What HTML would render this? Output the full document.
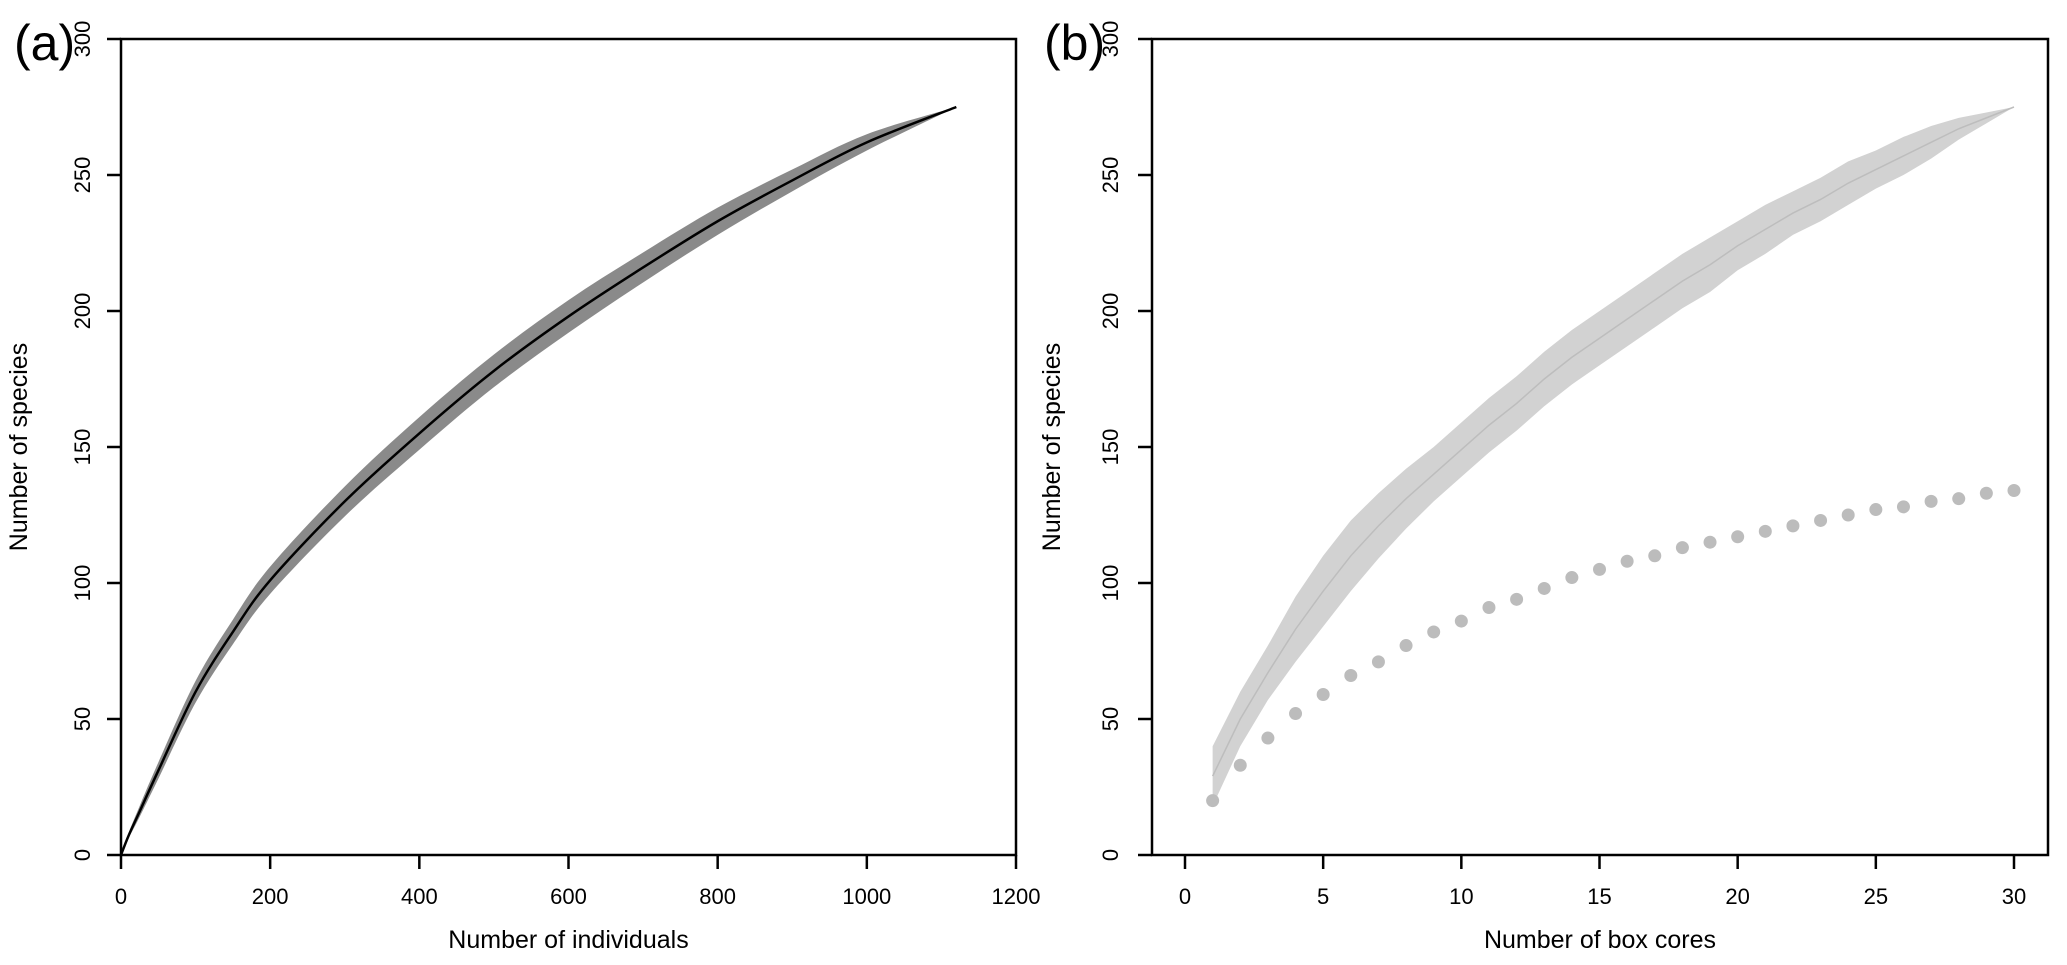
<!DOCTYPE html>
<html><head><meta charset="utf-8"><style>
html,body{margin:0;padding:0;background:#fff}
svg{display:block;font-family:"Liberation Sans",Arial,sans-serif}
</style></head><body>
<svg id="c" width="2067" height="965" viewBox="0 0 2067 965"></svg>
<script>
// Panel (a) data
const aX = [0,10,25,50,100,150,200,300,400,500,600,700,800,900,1000,1120];
const aMean = [0,7,16,31,60,82,101,130,155,178,198,216,233,248,262,275];
const aHalf = [0,1,2,3,4,4.5,5,5.5,6,6,6,5.5,5,4,3,0];
// Panel (b) data
const bX = [1,2,3,4,5,6,7,8,9,10,11,12,13,14,15,16,17,18,19,20,21,22,23,24,25,26,27,28,29,30];
const bMean = [29,50,67,83,97,110,121,131,140,149,158,166,175,183,190,197,204,211,217,224,230,236,241,247,252,257,262,267,271,275];
const bHalf = [11,10,10,12,13,13,12,11,10,10,10,10,10,10,10,10,10,10,10,9,9,8,8,8,7,7,6,4,2,0];
const bDots = [20,33,43,52,59,66,71,77,82,86,91,94,98,102,105,108,110,113,115,117,119,121,123,125,127,128,130,131,133,134];
const aXTicks = [0,200,400,600,800,1000,1200];
const bXTicks = [0,5,10,15,20,25,30];
const yTicks = [0,50,100,150,200,250,300];

const svgEl = document.getElementById('c');
const NS = 'http://www.w3.org/2000/svg';
function mk(tag, attrs, parent){const e=document.createElementNS(NS,tag);for(const k in attrs)e.setAttribute(k,attrs[k]);(parent||svgEl).appendChild(e);return e;}

const yTop=39, yBot=855;
const ys = v => yBot - v*(yBot-yTop)/300;
const axA = v => 121 + v*(1016-121)/1200;
const axB = v => 1185 + v*(2014-1185)/30;

function panel(name, left, right, xs, xTicks, ytx, ytitleX, xtitle, label, labelX){
  const g = mk('g',{});
  
  
  xTicks.forEach(t=>{
    const x=xs(t);
    const l=mk('line',{x1:x,x2:x,y1:yBot,y2:yBot+14,stroke:'#000','stroke-width':2.5},g);
    
    
    const tx=mk('text',{x:x,y:904,'font-size':22,'text-anchor':'middle'},g);
    tx.textContent=t;
    
    
  });
  yTicks.forEach(t=>{
    const y=ys(t);
    const l=mk('line',{x1:left-14,x2:left,y1:y,y2:y,stroke:'#000','stroke-width':2.5},g);
    
    
    const tx=mk('text',{x:0,y:0,'font-size':22,'text-anchor':'middle',transform:`translate(${ytx},${y}) rotate(-90)`},g);
    tx.textContent=t;
    
    
  });
  const yt=mk('text',{x:0,y:0,'font-size':25,'text-anchor':'middle',transform:`translate(${ytitleX},${(yTop+yBot)/2}) rotate(-90)`},g);
  yt.textContent='Number of species';
  
  
  const xt=mk('text',{x:(left+right)/2,y:948,'font-size':25,'text-anchor':'middle'},g);
  xt.textContent=xtitle;
  
  
  const lb=mk('text',{x:labelX,y:60,'font-size':50},g);
  lb.textContent=label;
  
  
  return g;
}
function frame(g,left,right){
  const box = mk('rect',{x:left,y:yTop,width:right-left,height:yBot-yTop,fill:'none',stroke:'#000','stroke-width':2.5},g);
  
  
}
// smooth path through points (Catmull-Rom to Bezier)
function smooth(pts, start){
  let d = start ? 'M'+pts[0][0]+','+pts[0][1] : 'L'+pts[0][0]+','+pts[0][1];
  for(let i=0;i<pts.length-1;i++){
    const p0=pts[Math.max(0,i-1)], p1=pts[i], p2=pts[i+1], p3=pts[Math.min(pts.length-1,i+2)];
    const c1=[p1[0]+(p2[0]-p0[0])/6, p1[1]+(p2[1]-p0[1])/6];
    const c2=[p2[0]-(p3[0]-p1[0])/6, p2[1]-(p3[1]-p1[1])/6];
    d+=`C${c1[0]},${c1[1]} ${c2[0]},${c2[1]} ${p2[0]},${p2[1]}`;
  }
  return d;
}
function band(xs, X, M, H, fill, parent, sm){
  const up = X.map((x,i)=>[xs(x),ys(M[i]+H[i])]);
  const lo = X.map((x,i)=>[xs(x),ys(M[i]-H[i])]).reverse();
  let d;
  if(sm) d = smooth(up,true)+smooth(lo,false)+'Z';
  else d = 'M'+up.map(p=>p.join(',')).join('L')+'L'+lo.map(p=>p.join(',')).join('L')+'Z';
  return mk('path',{d:d,fill:fill,stroke:'none'},parent);
}
function line(xs, X, M, col, w, parent, sm){
  const pts = X.map((x,i)=>[xs(x),ys(M[i])]);
  const d = sm ? smooth(pts,true) : 'M'+pts.map(p=>p.join(',')).join('L');
  return mk('path',{d:d,fill:'none',stroke:col,'stroke-width':w},parent);
}

// Panel a
const ga = panel('panel-a',121,1016,axA,aXTicks,90,27,'Number of individuals','(a)',14);
const ba = band(axA,aX,aMean,aHalf,'#8a8a8a',ga,true);


const la = line(axA,aX,aMean,'#000',2.5,ga,true);


frame(ga,121,1016);

// Panel b
const gb = panel('panel-b',1152,2048,axB,bXTicks,1118,1060,'Number of box cores','(b)',1044);
const bb = band(axB,bX,bMean,bHalf,'#d2d2d2',gb,false);


const lb2 = line(axB,bX,bMean,'#bdbdbd',1.5,gb,false);


bX.forEach((x,i)=>{
  const c=mk('circle',{cx:axB(x),cy:ys(bDots[i]),r:6.5,fill:'#bcbcbc'},gb);
  
  
});
frame(gb,1152,2048);
</script>
</body></html>
